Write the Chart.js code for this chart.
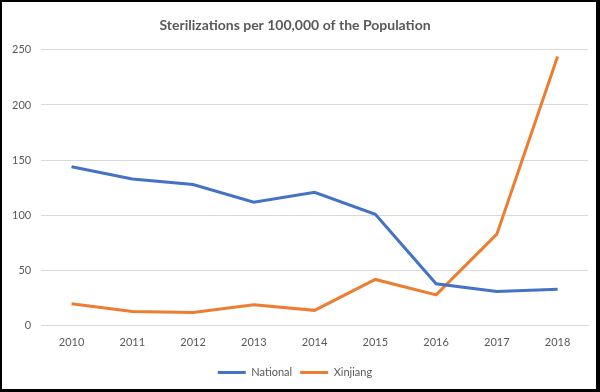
<!DOCTYPE html>
<html>
<head>
<meta charset="utf-8">
<script src="https://cdn.jsdelivr.net/npm/chart.js@4"></script>
<style>
  html, body { margin: 0; padding: 0; background: #fff; }
  #wrap { width: 600px; height: 392px; box-sizing: border-box; border: 2px solid #000; border-right-width: 4px; border-bottom-width: 3px; position: relative; }
</style>
</head>
<body>
<div id="wrap"><canvas id="myChart"></canvas></div>
<script>
var years = ["2010", "2011", "2012", "2013", "2014", "2015", "2016", "2017", "2018"];
var national = [144, 133, 128, 112, 121, 101, 38, 31, 33];
var xinjiang = [20, 13, 12, 19, 14, 42, 28, 83, 244];
var yTicks = [0, 50, 100, 150, 200, 250];

Chart.defaults.font.family = "Lato, 'Open Sans', sans-serif";
Chart.defaults.color = "#595959";

var ctx = document.getElementById("myChart");
var myChart = new Chart(ctx, {
    type: 'line',
    data: {
        labels: years,
        datasets: [
            { label: "National", data: national, borderColor: "#4472c4", backgroundColor: "#4472c4", borderWidth: 3, pointRadius: 0, tension: 0 },
            { label: "Xinjiang", data: xinjiang, borderColor: "#ed7d31", backgroundColor: "#ed7d31", borderWidth: 3, pointRadius: 0, tension: 0 }
        ]
    },
    options: {
        responsive: true,
        maintainAspectRatio: false,
        animation: false,
        layout: { padding: { left: 0, right: 8, top: 11, bottom: 1 } },
        plugins: {
            title: {
                display: true,
                text: "Sterilizations per 100,000 of the Population",
                color: "#595959",
                font: { size: 14, weight: 'bold' },
                padding: { top: 4, bottom: 16 }
            },
            legend: {
                position: 'bottom',
                labels: {
                    usePointStyle: true,
                    pointStyleWidth: 28,
                    pointStyle: 'line',
                    color: "#595959",
                    font: { size: 11 },
                    padding: 8
                }
            },
            tooltip: { enabled: false }
        },
        scales: {
            x: {
                offset: true,
                grid: { display: false, drawTicks: false },
                border: { color: "#d9d9d9" },
                ticks: { font: { size: 11 }, padding: 10 }
            },
            y: {
                min: 0,
                max: 250,
                afterBuildTicks: function (axis) {
                    axis.ticks = yTicks.map(function (v) { return { value: v }; });
                },
                grid: { color: "#d9d9d9", drawTicks: false },
                border: { display: false },
                ticks: { font: { size: 11 }, padding: 10 }
            }
        }
    }
});
</script>
</body>
</html>
